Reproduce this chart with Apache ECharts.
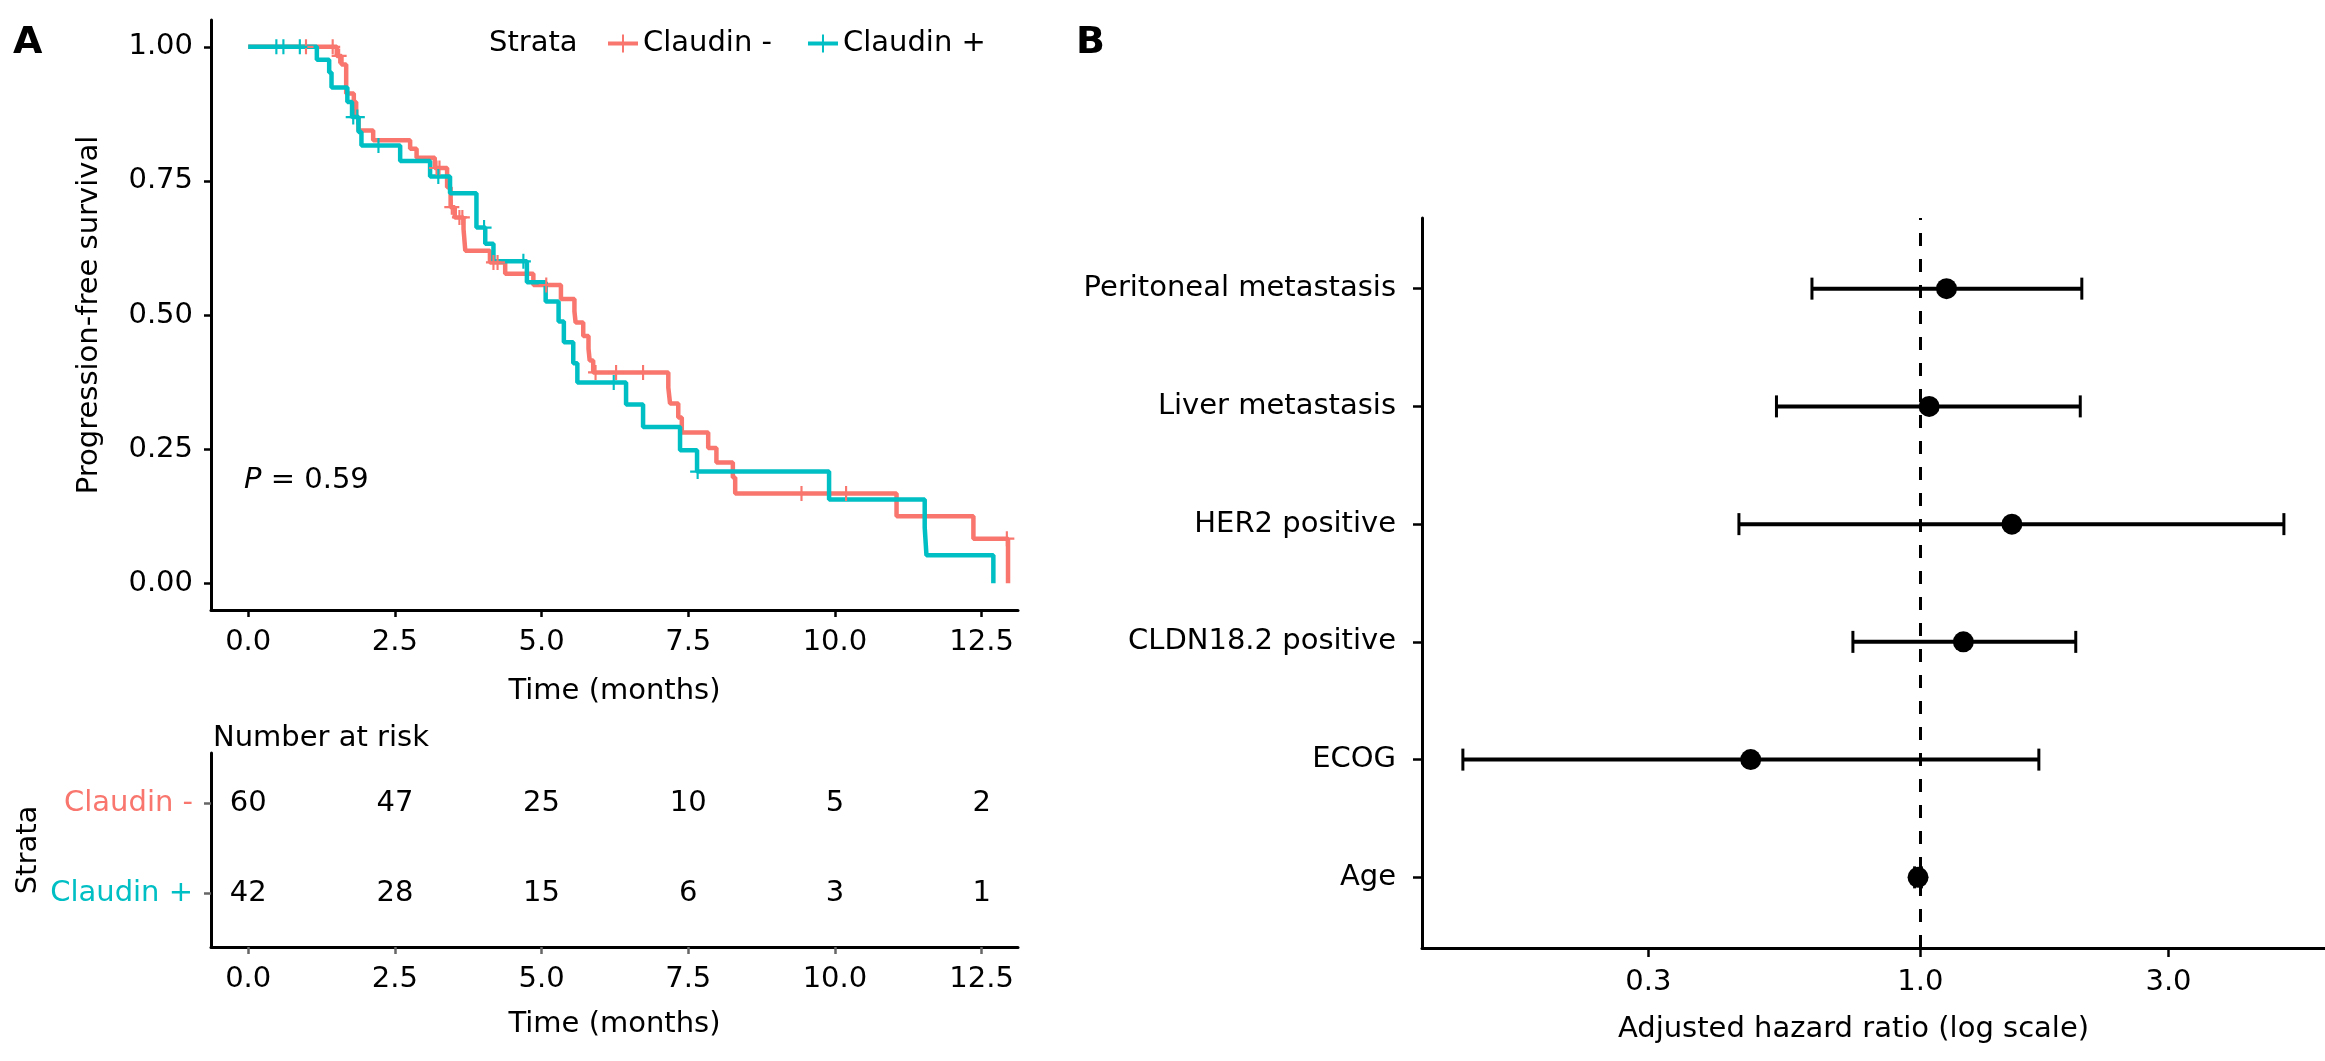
<!DOCTYPE html>
<html>
<head>
<meta charset="utf-8">
<script src="https://cdn.jsdelivr.net/npm/echarts@6/dist/echarts.min.js"></script>
<style>
  html, body { margin: 0; padding: 0; background: #fff; }
  #main { width: 2325px; height: 1061px; }
</style>
</head>
<body>
<div id="main"></div>
<script>
// --- panel A: Kaplan-Meier steps ---
var negTime = [0, 1.51, 1.59, 1.67, 1.80, 1.84, 1.88, 2.13, 2.76, 2.87, 3.18, 3.39, 3.45, 3.52, 3.67, 3.70,
               4.12, 4.38, 4.86, 5.33, 5.56, 5.58, 5.71, 5.80, 5.82, 5.88, 7.16, 7.19, 7.33, 7.39,
               7.84, 7.98, 8.26, 8.30, 11.05, 12.36, 12.95];
var negSurv = [1, 0.983, 0.967, 0.913, 0.897, 0.869, 0.844, 0.826, 0.810, 0.793, 0.774, 0.738, 0.701, 0.682, 0.660, 0.620,
               0.598, 0.577, 0.556, 0.530, 0.507, 0.486, 0.461, 0.437, 0.415, 0.393, 0.365, 0.335, 0.309, 0.281,
               0.252, 0.225, 0.197, 0.167, 0.125, 0.083, 0];
var negCensor = [0.985, 1.44, 1.55, 3.21, 3.26, 3.47, 3.60, 3.65, 4.18, 4.25, 5.08, 5.92, 6.27, 6.73, 9.43, 10.19, 12.93];

var posTime = [0, 1.17, 1.38, 1.42, 1.69, 1.77, 1.88, 1.93, 2.59, 3.10, 3.44, 3.89, 4.04, 4.18, 4.75,
               5.07, 5.29, 5.38, 5.54, 5.61, 6.44, 6.73, 7.36, 7.65, 9.90, 11.53, 11.56, 12.70];
var posSurv = [1, 0.976, 0.952, 0.924, 0.897, 0.869, 0.841, 0.816, 0.787, 0.758, 0.727, 0.663, 0.633, 0.600, 0.561,
               0.525, 0.488, 0.449, 0.410, 0.374, 0.333, 0.291, 0.248, 0.208, 0.156, 0.104, 0.052, 0];
var posCensor = [0.48, 0.60, 0.88, 1.79, 1.86, 2.22, 3.24, 4.02, 4.69, 6.23, 7.66];

var timeTicks = [0, 2.5, 5, 7.5, 10, 12.5];
var survTicks = [0, 0.25, 0.5, 0.75, 1];

// number at risk table
var riskNeg = [60, 47, 25, 10, 5, 2];
var riskPos = [42, 28, 15, 6, 3, 1];

// --- panel B: forest plot ---
var forestNames = ['Age', 'ECOG', 'CLDN18.2 positive', 'HER2 positive', 'Liver metastasis', 'Peritoneal metastasis'];
var hrValue = [0.99, 0.472, 1.21, 1.50, 1.04, 1.123];
var hrLower = [0.975, 0.132, 0.742, 0.448, 0.529, 0.619];
var hrUpper = [1.005, 1.69, 1.99, 5.0, 2.03, 2.044];
var hrTicks = [0.3, 1.0, 3.0];

var RED = '#F8766D', TEAL = '#00BFC4';
var FONT = 'DejaVu Sans';
var FS = 29;

function survAt(times, surv, t) {
    var s = surv[0];
    for (var i = 0; i < times.length; i++) {
        if (times[i] <= t) s = surv[i];
    }
    return s;
}
function log10(v) { return Math.log(v) / Math.LN10; }

var plusSym = 'path://M6,0H8V6H14V8H8V14H6V8H0V6H6Z';
var legendIcon = 'path://M0,8H30V12H0ZM14,1H16V19H14Z';

function kmLine(name, times, surv, color) {
    return {
        name: name, type: 'line', xAxisIndex: 0, yAxisIndex: 0,
        step: 'end', showSymbol: false, symbol: 'none',
        data: times.map(function (t, i) { return [t, surv[i]]; }),
        lineStyle: { color: color, width: 4.5 },
        itemStyle: { color: color },
        z: 3
    };
}
function kmCensor(name, censor, times, surv, color) {
    return {
        name: name, type: 'scatter', xAxisIndex: 0, yAxisIndex: 0,
        symbol: plusSym, symbolSize: 15,
        data: censor.map(function (t) { return [t, survAt(times, surv, t)]; }),
        itemStyle: { color: color, opacity: 1 },
        z: 4
    };
}
function riskRow(vals, row) {
    return {
        type: 'scatter', xAxisIndex: 1, yAxisIndex: 1,
        symbol: 'circle', symbolSize: 1,
        itemStyle: { color: '#fff', opacity: 1 },
        data: vals.map(function (v, i) { return [timeTicks[i], row, v]; }),
        label: {
            show: true, position: 'inside', color: '#000', opacity: 1,
            textBorderWidth: 0, textBorderColor: 'transparent',
            fontFamily: FONT, fontSize: FS,
            formatter: function (p) { return String(p.value[2]); }
        }
    };
}

var axisLineStyle = { show: true, onZero: false, lineStyle: { color: '#000', width: 3 } };
var tickStyle = { show: true, length: 7, lineStyle: { color: '#000', width: 2.5 } };
var labelBase = { color: '#000', fontFamily: FONT, fontSize: FS };

var option = {
    animation: false,
    textStyle: { fontFamily: FONT },
    title: [
        { text: 'A', left: 13, top: 24, padding: 0, textStyle: { fontFamily: FONT, fontSize: 38, fontWeight: 'bold', color: '#000' } },
        { text: 'B', left: 1076, top: 24, padding: 0, textStyle: { fontFamily: FONT, fontSize: 38, fontWeight: 'bold', color: '#000' } },
        { text: 'Strata', left: 489, top: 29, padding: 0, textStyle: { fontFamily: FONT, fontSize: FS, fontWeight: 'normal', color: '#000' } },
        { text: 'Number at risk', left: 213, top: 724, padding: 0, textStyle: { fontFamily: FONT, fontSize: FS, fontWeight: 'normal', color: '#000' } },
        {
            text: '{i|P} = 0.59', left: 244, top: 466, padding: 0,
            textStyle: {
                fontFamily: FONT, fontSize: FS, fontWeight: 'normal', color: '#000',
                rich: { i: { fontFamily: FONT, fontSize: FS, fontStyle: 'italic', color: '#000' } }
            }
        }
    ],
    legend: {
        left: 608, top: 29, padding: 0,
        itemWidth: 30, itemHeight: 20, itemGap: 36,
        textStyle: { fontFamily: FONT, fontSize: FS, color: '#000' },
        data: [
            { name: 'Claudin -', icon: legendIcon },
            { name: 'Claudin +', icon: legendIcon }
        ]
    },
    grid: [
        { left: 211, top: 20, width: 807, height: 590 },
        { left: 211, top: 753, width: 807, height: 194 },
        { left: 1422, top: 218, width: 903, height: 730 }
    ],
    xAxis: [
        {
            gridIndex: 0, type: 'value', min: -0.634, max: 13.12,
            axisLine: axisLineStyle,
            axisTick: Object.assign({ customValues: timeTicks }, tickStyle),
            axisLabel: Object.assign({ customValues: timeTicks, margin: 18, formatter: function (v) { return v.toFixed(1); } }, labelBase),
            splitLine: { show: false },
            name: 'Time (months)', nameLocation: 'middle', nameGap: 67,
            nameTextStyle: labelBase
        },
        {
            gridIndex: 1, type: 'value', min: -0.634, max: 13.12,
            axisLine: axisLineStyle,
            axisTick: Object.assign({ customValues: timeTicks }, tickStyle, { lineStyle: { color: '#666', width: 2.5 } }),
            axisLabel: Object.assign({ customValues: timeTicks, margin: 18, formatter: function (v) { return v.toFixed(1); } }, labelBase),
            splitLine: { show: false },
            name: 'Time (months)', nameLocation: 'middle', nameGap: 63,
            nameTextStyle: labelBase
        },
        {
            gridIndex: 2, type: 'value', min: -0.958, max: 0.778,
            axisLine: axisLineStyle,
            axisTick: Object.assign({ customValues: hrTicks.map(log10) }, tickStyle, { length: 9 }),
            axisLabel: Object.assign({ customValues: hrTicks.map(log10), margin: 20, formatter: function (v) { return Math.pow(10, v).toFixed(1); } }, labelBase),
            splitLine: { show: false },
            name: 'Adjusted hazard ratio (log scale)', nameLocation: 'middle', nameGap: 67,
            nameTextStyle: Object.assign({ padding: [0, 40, 0, 0] }, labelBase)
        }
    ],
    yAxis: [
        {
            gridIndex: 0, type: 'value', min: -0.05, max: 1.05,
            axisLine: axisLineStyle,
            axisTick: Object.assign({ customValues: survTicks }, tickStyle),
            axisLabel: Object.assign({ customValues: survTicks, margin: 18, formatter: function (v) { return v.toFixed(2); } }, labelBase),
            splitLine: { show: false },
            name: 'Progression-free survival', nameLocation: 'middle', nameGap: 107,
            nameTextStyle: labelBase
        },
        {
            gridIndex: 1, type: 'value', min: 0.4, max: 2.556,
            axisLine: axisLineStyle,
            axisTick: { show: true, customValues: [1, 2], length: 7, lineStyle: { color: '#666', width: 2.5 } },
            axisLabel: Object.assign({}, labelBase, {
                customValues: [1, 2], margin: 18,
                formatter: function (v) { return v === 2 ? 'Claudin -' : 'Claudin +'; },
                color: function (v) { return Number(v) === 2 ? RED : TEAL; }
            }),
            splitLine: { show: false },
            name: 'Strata', nameLocation: 'middle', nameGap: 168,
            nameTextStyle: labelBase
        },
        {
            gridIndex: 2, type: 'value', min: 0.4, max: 6.6,
            axisLine: axisLineStyle,
            axisTick: Object.assign({ customValues: [1, 2, 3, 4, 5, 6] }, tickStyle, { length: 9 }),
            axisLabel: Object.assign({ customValues: [1, 2, 3, 4, 5, 6], margin: 26, formatter: function (v) { return forestNames[v - 1]; } }, labelBase),
            splitLine: { show: false }
        }
    ],
    series: [
        kmLine('Claudin -', negTime, negSurv, RED),
        kmLine('Claudin +', posTime, posSurv, TEAL),
        kmCensor('Claudin - censor', negCensor, negTime, negSurv, RED),
        kmCensor('Claudin + censor', posCensor, posTime, posSurv, TEAL),
        riskRow(riskNeg, 2),
        riskRow(riskPos, 1),
        {
            type: 'custom', xAxisIndex: 2, yAxisIndex: 2,
            encode: { x: [0, 1], y: 2 },
            data: forestNames.map(function (n, i) { return [log10(hrLower[i]), log10(hrUpper[i]), i + 1]; }),
            renderItem: function (params, api) {
                var p1 = api.coord([api.value(0), api.value(2)]);
                var p2 = api.coord([api.value(1), api.value(2)]);
                var c = 11;
                var st = { stroke: '#000', lineWidth: 4 };
                return {
                    type: 'group',
                    children: [
                        { type: 'line', shape: { x1: p1[0], y1: p1[1], x2: p2[0], y2: p2[1] }, style: st },
                        { type: 'line', shape: { x1: p1[0], y1: p1[1] - c, x2: p1[0], y2: p1[1] + c }, style: { stroke: '#000', lineWidth: 3 } },
                        { type: 'line', shape: { x1: p2[0], y1: p2[1] - c, x2: p2[0], y2: p2[1] + c }, style: { stroke: '#000', lineWidth: 3 } }
                    ]
                };
            },
            markLine: {
                silent: true, symbol: ['none', 'none'], label: { show: false },
                lineStyle: { type: [13, 13], color: '#000', width: 3 },
                data: [{ xAxis: 0 }]
            },
            z: 2
        },
        {
            type: 'scatter', xAxisIndex: 2, yAxisIndex: 2,
            symbol: 'circle', symbolSize: 21,
            itemStyle: { color: '#000', opacity: 1 },
            data: forestNames.map(function (n, i) { return [log10(hrValue[i]), i + 1]; }),
            z: 5
        }
    ]
};

var chart = echarts.init(document.getElementById('main'));
chart.setOption(option);
</script>
</body>
</html>
